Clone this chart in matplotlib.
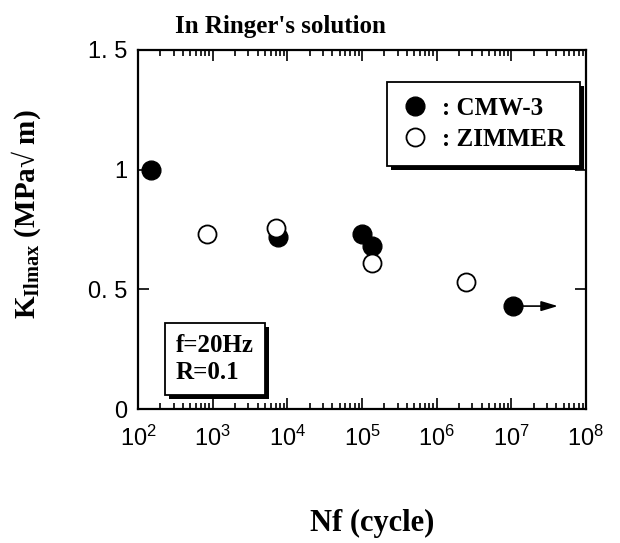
import math
import matplotlib
matplotlib.use("Agg")
import matplotlib.pyplot as plt
import matplotlib.patheffects as pe
from matplotlib.ticker import LogLocator, FixedLocator, FixedFormatter, FuncFormatter, NullFormatter

# data
cmw_n = [150, 7500, 1.0e5, 1.35e5, 1.05e7]
cmw_k = [1.0, 0.72, 0.73, 0.68, 0.43]
zim_n = [850, 7000, 1.35e5, 2.5e6]
zim_k = [0.73, 0.755, 0.61, 0.53]
runout_n = [1.05e7]
runout_k = [0.43]
runout_end = [4.2e7]
yticks = [0, 0.5, 1, 1.5]
ytick_labels = ["0", "0. 5", "1", "1. 5"]

serif = "Liberation Serif"
sans = "Liberation Sans"
plt.rcParams["mathtext.fontset"] = "custom"
plt.rcParams["mathtext.rm"] = serif
plt.rcParams["mathtext.bf"] = serif + ":bold"

fig = plt.figure(figsize=(6.2, 5.43), dpi=100)
L, R, B, T = 138, 586, 409, 50
ax = fig.add_axes([L / 620, 1 - B / 543, (R - L) / 620, (B - T) / 543])

def ax_frac(px, py):
    return (px - L) / (R - L), (B - py) / (B - T)

ax.plot(cmw_n, cmw_k, "o", ms=13.5, mfc="black", mec="black", zorder=3, label=": CMW-3")
ax.plot(zim_n, zim_k, "o", ms=13, mfc="white", mec="black", mew=1.3, zorder=4, label=": ZIMMER")
for n0, k0, n1 in zip(runout_n, runout_k, runout_end):
    ax.annotate("", xy=(n1, k0), xytext=(n0, k0),
                arrowprops=dict(arrowstyle="-|>,head_length=1.0,head_width=0.3", color="black", lw=1.2,
                                shrinkA=0, shrinkB=0), zorder=2)

ax.set_xscale("log")
ax.set_xlim(1e2, 1e8)
ax.set_ylim(0, 1.5)

ax.xaxis.set_major_locator(LogLocator(base=10, numticks=10))
ax.xaxis.set_minor_locator(LogLocator(base=10, subs=range(2, 10), numticks=20))
ax.xaxis.set_major_formatter(FuncFormatter(lambda v, p: r"$\mathregular{10^{%d}}$" % round(math.log10(v))))
ax.xaxis.set_minor_formatter(NullFormatter())
ax.yaxis.set_major_locator(FixedLocator(yticks))
ax.yaxis.set_major_formatter(FixedFormatter(ytick_labels))

ax.tick_params(which="both", direction="in", top=True, right=True, width=1.2)
ax.tick_params(which="major", length=8, labelsize=17)
ax.tick_params(which="minor", length=4)
ax.tick_params(axis="x", pad=12)
ax.tick_params(axis="y", pad=8)
for lab in ax.get_xticklabels() + ax.get_yticklabels():
    lab.set_fontfamily(sans)
for s in ax.spines.values():
    s.set_linewidth(1.6)

leg = ax.legend(loc="upper right", bbox_to_anchor=ax_frac(580, 82), bbox_transform=ax.transAxes,
                borderaxespad=0, fancybox=False, edgecolor="black", framealpha=1,
                prop=dict(family=serif, weight="bold", size=18), handletextpad=0.6,
                borderpad=0.6, labelspacing=0.3, handlelength=1.0, markerscale=1.0)
leg.get_frame().set_linewidth(1.3)
leg.get_frame().set_path_effects([pe.SimplePatchShadow(offset=(3, -3), shadow_rgbFace="black", alpha=1),
                                  pe.Normal()])

bx, by = ax_frac(176, 384)
t = ax.text(bx, by, "f=20Hz\nR=0.1", transform=ax.transAxes,
            family=serif, weight="bold", size=18, ha="left", va="bottom", linespacing=1.2,
            bbox=dict(boxstyle="square,pad=0.45", fc="white", ec="black", lw=1.3))
t.get_bbox_patch().set_path_effects([pe.SimplePatchShadow(offset=(3, -3), shadow_rgbFace="black", alpha=1),
                                     pe.Normal()])

fig.text(280 / 620, 1 - 26 / 543, "In Ringer's solution", family=serif, weight="bold", size=18,
         ha="center", va="center")
fig.text(372 / 620, 1 - 523 / 543, "Nf (cycle)", family=serif, weight="bold", size=22,
         ha="center", va="center")
fig.text(26 / 620, 1 - 214 / 543, r"K$_{\mathbf{Ilmax}}$ (MPa√ m)", family=serif, weight="bold",
         size=21, rotation=90, ha="center", va="center")

fig.savefig("out.png", dpi=100)
